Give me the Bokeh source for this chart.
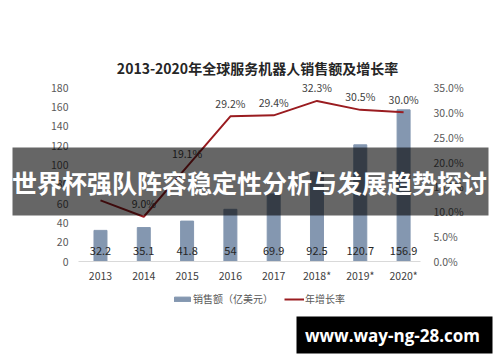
from bokeh.plotting import figure
from bokeh.models import (ColumnDataSource, Range1d, LinearAxis, FixedTicker,
                          NumeralTickFormatter, Label, BoxAnnotation, Legend, LegendItem)
from bokeh.core.properties import value
from bokeh.embed import file_html
from bokeh.resources import INLINE

years = ["2013", "2014", "2015", "2016", "2017", "2018*", "2019*", "2020*"]
sales = [32.2, 35.1, 41.8, 54, 69.9, 92.5, 120.7, 156.9]
growth = [12.3, 9.0, 19.1, 29.2, 29.4, 32.3, 30.5, 30.0]
sales_labels = ["32.2", "35.1", "41.8", "54", "69.9", "92.5", "120.7", "156.9"]
growth_labels = ["", "9.0%", "19.1%", "29.2%", "29.4%", "32.3%", "30.5%", "30.0%"]
left_ticks = [0, 20, 40, 60, 80, 100, 120, 140, 160, 180]
right_ticks = [0, 0.05, 0.10, 0.15, 0.20, 0.25, 0.30, 0.35]

title_text = "2013-2020年全球服务机器人销售额及增长率"
banner_text = "世界杯强队阵容稳定性分析与发展趋势探讨"
watermark_text = "www.way-ng-28.com"

CJK = "Noto Sans CJK SC"
NUM = "Noto Sans CJK SC"

xpos = list(range(len(years)))
src = ColumnDataSource(dict(
    x=xpos, years=years, sales=sales, zero=[0] * len(sales),
    growth=[g / 100 for g in growth],
    sales_labels=sales_labels, growth_labels=growth_labels,
))

W, H = 500, 362
p = figure(width=W, height=H,
           x_range=Range1d(-2.309, 9.238), y_range=Range1d(-104.48, 270.0),
           output_backend="svg", toolbar_location=None,
           min_border=0, x_axis_type=None, y_axis_type=None)
p.outline_line_color = None
p.background_fill_color = "white"
p.border_fill_color = "white"
p.xgrid.grid_line_color = None
p.ygrid.grid_line_color = None

p.extra_y_ranges = {"pct": Range1d(-104.48 * 0.35 / 180, 270.0 * 0.35 / 180)}

bars = p.vbar(x="x", top="sales", width=0.3, source=src, color="#8497B0")
line = p.line(x="x", y="growth", source=src, y_range_name="pct",
              line_color="#9A1C20", line_width=2)

p.text(x="x", y="zero", text="sales_labels", source=src, y_offset=-11,
       text_align="center", text_baseline="middle", text_font=value(NUM),
       text_font_size="11px", text_color="#262626")

p.text(x="x", y="growth", text="growth_labels", source=src, y_range_name="pct",
       y_offset=-13, text_align="center", text_baseline="middle",
       text_font=value(NUM), text_font_size="10.5px", text_color="#404040")

def style_axis(a, standoff, color="#595959"):
    a.axis_line_color = None
    a.major_tick_line_color = None
    a.minor_tick_line_color = None
    a.major_label_standoff = standoff
    a.major_label_text_font = NUM
    a.major_label_text_font_size = "10.5px"
    a.major_label_text_color = color

lax = LinearAxis(ticker=FixedTicker(ticks=left_ticks), fixed_location=-0.508)
style_axis(lax, 4)
p.add_layout(lax, "left")

rax = LinearAxis(y_range_name="pct", ticker=FixedTicker(ticks=right_ticks),
                 formatter=NumeralTickFormatter(format="0.0%"), fixed_location=7.506)
style_axis(rax, 2)
p.add_layout(rax, "right")

xax = LinearAxis(ticker=FixedTicker(ticks=xpos),
                 major_label_overrides={i: y for i, y in zip(xpos, years)},
                 fixed_location=0, bounds=(-0.508, 7.4))
style_axis(xax, 0, "#404040")
xax.axis_line_color = "#D9D9D9"
xax.axis_line_width = 1
p.add_layout(xax, "below")

# legend
legend = Legend(items=[LegendItem(label="销售额（亿美元）", renderers=[bars]),
                       LegendItem(label="年增长率", renderers=[line])],
                orientation="horizontal", location=(172, 56),
                glyph_width=20, glyph_height=6, label_standoff=1, spacing=11,
                padding=0, margin=0, border_line_color=None,
                background_fill_alpha=0,
                label_text_font=CJK, label_text_font_size="10px",
                label_text_color="#595959")
p.add_layout(legend, "center")

# title
p.add_layout(Label(x=257, y=H - 67, x_units="screen", y_units="screen", text=title_text,
                   text_align="center", text_baseline="middle", text_font=CJK,
                   text_font_size="14px", text_font_style="bold", text_color="#262626"))

# banner overlay
p.add_layout(BoxAnnotation(left=12, right=488, bottom=H - 215, top=H - 147,
                           left_units="screen", right_units="screen",
                           bottom_units="screen", top_units="screen",
                           fill_color="black", fill_alpha=0.6, line_color=None,
                           level="annotation"))
p.add_layout(Label(x=249, y=H - 181, x_units="screen", y_units="screen", text=banner_text,
                   text_align="center", text_baseline="middle", text_font=CJK,
                   text_font_size="25px", text_font_style="bold", text_color="white"))

# watermark
p.add_layout(BoxAnnotation(left=296, right=492, bottom=H - 353, top=H - 316,
                           left_units="screen", right_units="screen",
                           bottom_units="screen", top_units="screen",
                           fill_color="black", fill_alpha=1.0, line_color=None,
                           level="annotation"))
p.add_layout(Label(x=392, y=H - 335, x_units="screen", y_units="screen", text=watermark_text,
                   text_align="center", text_baseline="middle", text_font="Open Sans",
                   text_font_size="17px", text_font_style="bold", text_color="white"))

open("out.html", "w").write(file_html(p, INLINE))
